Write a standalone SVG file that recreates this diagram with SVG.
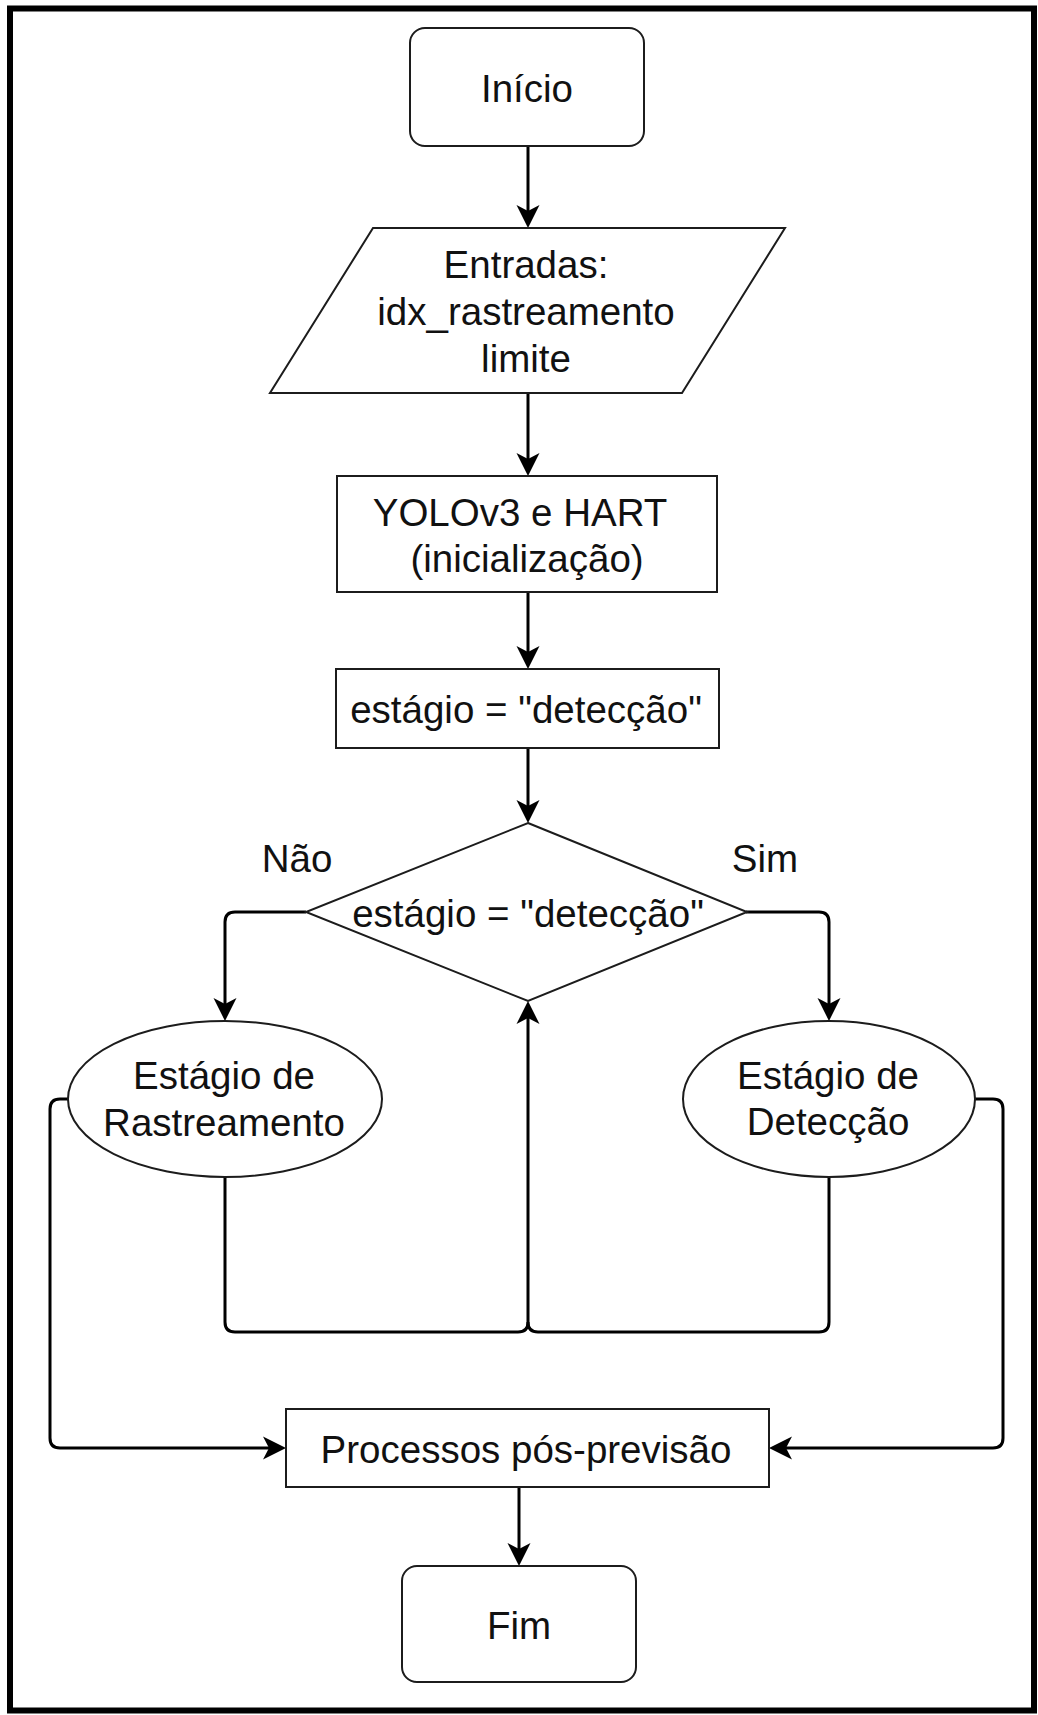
<svg xmlns="http://www.w3.org/2000/svg" width="1038" height="1715" viewBox="0 0 1038 1715">
  <style>
    .shape { fill: #ffffff; stroke: #1c1c1c; stroke-width: 2; }
    .label { font-family: "Liberation Sans", Arial, sans-serif; font-size: 38.5px; fill: #111111; text-anchor: middle; }
    .edge { fill: none; stroke: #000000; stroke-width: 3; stroke-linejoin: round; }
    .frame { fill: none; stroke: #000000; stroke-width: 6; }
  </style>
  <defs>
    <!-- classic notched arrowhead; the tip sits 15px beyond the path end -->
    <marker id="arrow" markerUnits="userSpaceOnUse" viewBox="-10 -13 28 26" refX="0" refY="0" markerWidth="28" markerHeight="26" orient="auto">
      <path d="M15,0 L-8,-11.5 L-2,0 L-8,11.5 Z" fill="#000000"/>
    </marker>
  </defs>

  <rect width="1038" height="1715" fill="#ffffff"/>
  <rect class="frame" x="10" y="8.5" width="1024" height="1702"/>

  <g id="connectors">
    <path class="edge" d="M528,146 V213" marker-end="url(#arrow)"/>
    <path class="edge" d="M528,393 V461" marker-end="url(#arrow)"/>
    <path class="edge" d="M528,592 V654" marker-end="url(#arrow)"/>
    <path class="edge" d="M528,748 V808" marker-end="url(#arrow)"/>
    <!-- decision branches -->
    <path class="edge" d="M306,912 H235 Q225,912 225,922 V1006" marker-end="url(#arrow)"/>
    <path class="edge" d="M746,912 H819 Q829,912 829,922 V1006" marker-end="url(#arrow)"/>
    <!-- loops back to the decision -->
    <path class="edge" d="M225,1177 V1322 Q225,1332 235,1332 H518 Q528,1332 528,1322 V1016" marker-end="url(#arrow)"/>
    <path class="edge" d="M829,1177 V1322 Q829,1332 819,1332 H538 Q528,1332 528,1322"/>
    <!-- outputs to post-processing -->
    <path class="edge" d="M68,1099 H60 Q50,1099 50,1109 V1438 Q50,1448 60,1448 H271" marker-end="url(#arrow)"/>
    <path class="edge" d="M975,1099 H993 Q1003,1099 1003,1109 V1438 Q1003,1448 993,1448 H784" marker-end="url(#arrow)"/>
    <path class="edge" d="M519,1487 V1551" marker-end="url(#arrow)"/>
  </g>

  <g id="inicio">
    <rect class="shape" x="410" y="28" width="234" height="118" rx="15" ry="15"/>
    <text class="label" x="527" y="102">Início</text>
  </g>

  <g id="entradas">
    <polygon class="shape" points="373,228 785,228 682,393 270,393"/>
    <text class="label" x="526" y="278">Entradas:</text>
    <text class="label" x="526" y="325">idx_rastreamento</text>
    <text class="label" x="526" y="372">limite</text>
  </g>

  <g id="inicializacao">
    <rect class="shape" x="337" y="476" width="380" height="116"/>
    <text class="label" x="520" y="526">YOLOv3 e HART</text>
    <text class="label" x="527" y="572">(inicialização)</text>
  </g>

  <g id="estagio-inicial">
    <rect class="shape" x="336" y="669" width="383" height="79"/>
    <text class="label" x="526" y="723">estágio = "detecção"</text>
  </g>

  <g id="decisao">
    <polygon class="shape" points="528,823 747,912 528,1001 306,912"/>
    <text class="label" x="528" y="927">estágio = "detecção"</text>
    <text class="label" x="297" y="872">Não</text>
    <text class="label" x="765" y="872">Sim</text>
  </g>

  <g id="rastreamento">
    <ellipse class="shape" cx="225" cy="1099" rx="157" ry="78"/>
    <text class="label" x="224" y="1089">Estágio de</text>
    <text class="label" x="224" y="1136">Rastreamento</text>
  </g>

  <g id="deteccao">
    <ellipse class="shape" cx="829" cy="1099" rx="146" ry="78"/>
    <text class="label" x="828" y="1089">Estágio de</text>
    <text class="label" x="828" y="1135">Detecção</text>
  </g>

  <g id="pos-previsao">
    <rect class="shape" x="286" y="1409" width="483" height="78"/>
    <text class="label" x="526" y="1463">Processos pós-previsão</text>
  </g>

  <g id="fim">
    <rect class="shape" x="402" y="1566" width="234" height="116" rx="15" ry="15"/>
    <text class="label" x="519" y="1639">Fim</text>
  </g>
</svg>
